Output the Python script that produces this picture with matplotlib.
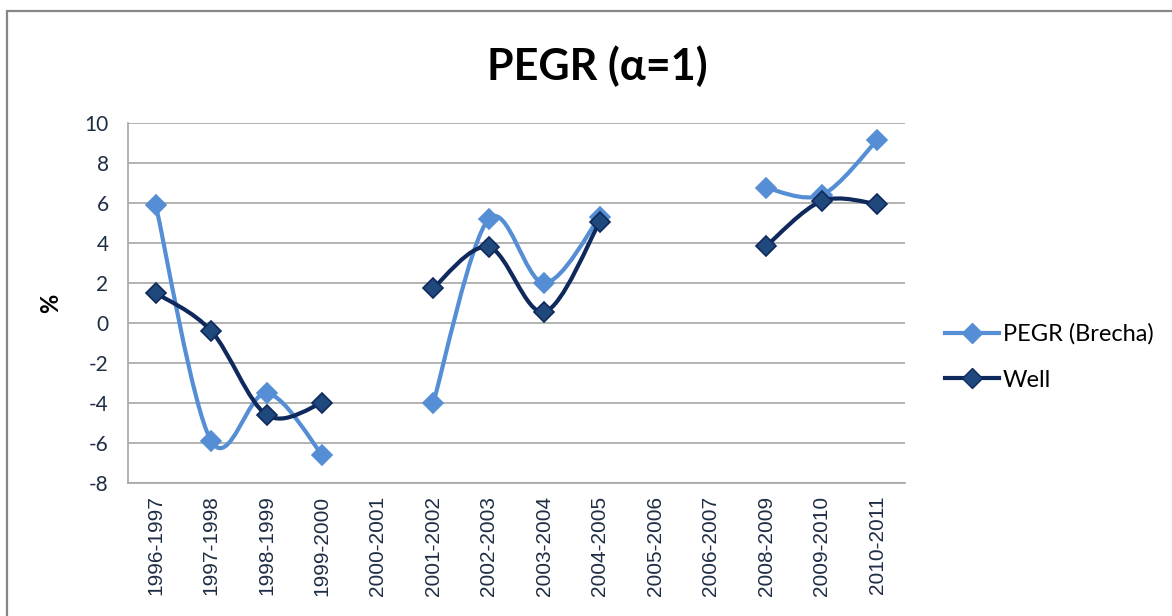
import matplotlib
matplotlib.use("Agg")
import matplotlib.pyplot as plt
import numpy as np
from matplotlib.path import Path
from matplotlib.patches import PathPatch, Rectangle
from matplotlib.lines import Line2D

categories = ["1996-1997", "1997-1998", "1998-1999", "1999-2000", "2000-2001",
              "2001-2002", "2002-2003", "2003-2004", "2004-2005", "2005-2006",
              "2006-2007", "2008-2009", "2009-2010", "2010-2011"]
pegr = [5.9, -5.9, -3.5, -6.6, None, -4.0, 5.2, 2.0, 5.3, None, None, 6.75, 6.4, 9.15]
well = [1.5, -0.4, -4.6, -4.0, None, 1.75, 3.8, 0.55, 5.05, None, None, 3.85, 6.1, 5.95]

LIGHT = "#558ED5"
DARK = "#10295C"
DARK_FILL = "#1F497D"
TEXT = "#1F2D44"
GRID = "#A6A6A6"


def runs(values):
    """Split a series into contiguous (x, y) runs, breaking at None."""
    out, cur = [], []
    for i, v in enumerate(values):
        if v is None:
            if cur:
                out.append(cur)
            cur = []
        else:
            cur.append((i, v))
    if cur:
        out.append(cur)
    return out


def smooth_path(pts):
    # Excel-like smoothing: Catmull-Rom converted to cubic Bezier
    p = np.array(pts, dtype=float)
    verts = [p[0]]
    codes = [Path.MOVETO]
    n = len(p)
    for i in range(n - 1):
        p0 = p[i - 1] if i > 0 else p[i]
        p1, p2 = p[i], p[i + 1]
        p3 = p[i + 2] if i + 2 < n else p[i + 1]
        c1 = p1 + (p2 - p0) / 6.0
        c2 = p2 - (p3 - p1) / 6.0
        verts += [c1, c2, p2]
        codes += [Path.CURVE4] * 3
    return Path(verts, codes)


fig = plt.figure(figsize=(11.72, 6.16), dpi=100)
fig.patches.append(Rectangle((7 / 1172, -0.01), 1.2, 1 - 11 / 616 + 0.01,
                             transform=fig.transFigure, fill=False,
                             edgecolor="#878787", linewidth=1.6))

ax = fig.add_axes([128 / 1172, 133 / 616, 777 / 1172, 360 / 616])
x = np.arange(len(categories))

for series, color, fill, z in [(pegr, LIGHT, LIGHT, 3), (well, DARK, DARK_FILL, 4)]:
    for run in runs(series):
        if len(run) > 1:
            ax.add_patch(PathPatch(smooth_path(run), fill=False, edgecolor=color,
                                   linewidth=3.0, zorder=z, capstyle="round"))
        xs = [r[0] for r in run]
        ys = [r[1] for r in run]
        ax.plot(xs, ys, linestyle="none", marker="D", markersize=10,
                markerfacecolor=fill, markeredgecolor=color, markeredgewidth=1.2,
                zorder=z + 0.5)

ax.set_xlim(-0.5, len(categories) - 0.5)
ax.set_ylim(-8, 10)
ax.set_yticks(np.arange(-8, 11, 2))
ax.set_yticklabels([str(v) for v in range(-8, 11, 2)], fontsize=15,
                   family="Lato", color=TEXT)
ax.set_xticks(x)
ax.set_xticklabels(categories, rotation=90, fontsize=15, family="Liberation Sans",
                   color=TEXT)
ax.tick_params(axis="both", length=0)
ax.tick_params(axis="y", pad=14)
ax.tick_params(axis="x", pad=9)
ax.grid(axis="y", color=GRID, linewidth=1.2)
ax.set_axisbelow(True)
for s in ["top", "right"]:
    ax.spines[s].set_visible(False)
for s in ["left", "bottom"]:
    ax.spines[s].set_color(GRID)
    ax.spines[s].set_linewidth(1.2)

ax.set_ylabel("%", fontsize=17, fontweight="bold", family="Lato", labelpad=16)

fig.text(597 / 1172, 1 - 66 / 616, "PEGR (\u03b1=1)", ha="center", va="center",
         fontsize=31, fontweight="bold", family=["Lato", "DejaVu Sans"])

handles = [
    Line2D([], [], color=LIGHT, linewidth=3.0, marker="D", markersize=10,
           markerfacecolor=LIGHT, markeredgecolor=LIGHT),
    Line2D([], [], color=DARK, linewidth=3.0, marker="D", markersize=10,
           markerfacecolor=DARK_FILL, markeredgecolor=DARK),
]
fig.legend(handles, ["PEGR (Brecha)", "Well"], loc="center left",
           bbox_to_anchor=(945 / 1172, 1 - 357 / 616), frameon=False,
           borderpad=0, borderaxespad=0,
           prop={"family": "Lato", "size": 17}, handlelength=2.3,
           handletextpad=0.15, labelspacing=1.05)

fig.savefig("out.png", dpi=100)
